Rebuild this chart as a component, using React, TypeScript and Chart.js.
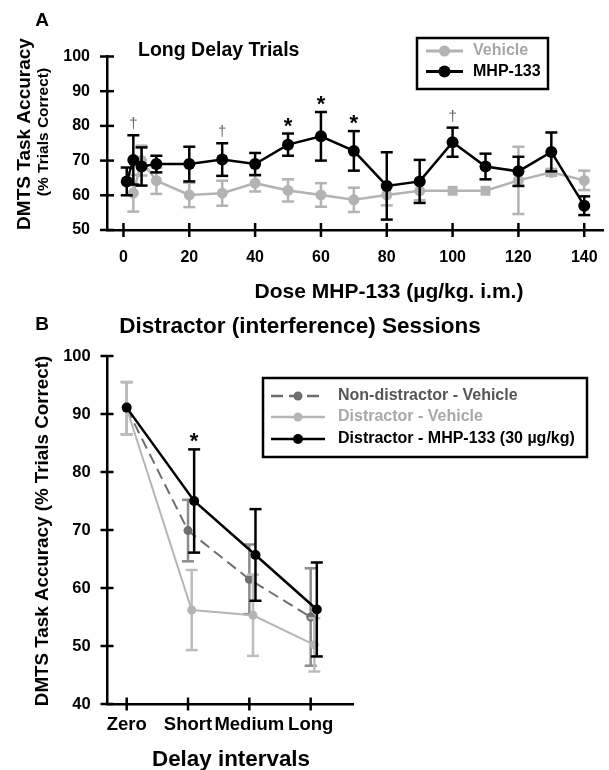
import React, { useEffect, useRef } from "react";
import { Chart, registerables } from "chart.js";
Chart.register(...registerables);

const W = 609;
const H = 770;
const FONT = '"Liberation Sans", Arial, Helvetica, sans-serif';

// ---------- Panel A data ----------
const doseTicks = [0, 20, 40, 60, 80, 100, 120, 140];
const yTicksA = [50, 60, 70, 80, 90, 100];
const mhpDose = [1, 3, 5.5, 10, 20, 30, 40, 50, 60, 70, 80, 90, 100, 110, 120, 130, 140];
const mhpMean = [64.0, 70.2, 68.3, 69.0, 69.0, 70.3, 69.0, 74.6, 77.0, 72.8, 62.7, 64.0, 75.3, 68.3, 66.9, 72.5, 57.0];
const mhpSem = [4.0, 7.1, 5.5, 2.4, 5.0, 4.7, 3.2, 3.2, 7.0, 5.7, 9.7, 6.2, 4.2, 3.7, 4.2, 5.6, 2.7];
const vehDose = [3, 5.5, 10, 20, 30, 40, 50, 60, 70, 80, 90, 100, 110, 120, 130, 140];
const vehMean = [60.6, 70.0, 64.2, 60.1, 60.6, 63.5, 61.4, 60.1, 58.7, 60.1, 61.3, 61.3, 61.3, 64.3, 66.6, 64.3];
const vehSem = [5.3, 4.3, 3.8, 3.5, 3.6, 2.4, 3.2, 3.4, 3.5, 3.0, 2.7, 0, 0, 9.7, 1.0, 2.8];
const squareDoses = [100, 110];
const markDoses = [3, 30, 50, 60, 70, 100];
const markSymbols = ["†", "†", "*", "*", "*", "†"];

// ---------- Panel B data ----------
const delayLabels = ["Zero", "Short", "Medium", "Long"];
const delayTicks = [0, 1, 2, 3];
const yTicksB = [40, 50, 60, 70, 80, 90, 100];
const nonDistMean = [91.0, 69.9, 61.5, 55.0];
const nonDistSem = [4.5, 5.3, 6.0, 8.4];
const distVehMean = [91.0, 56.2, 55.3, 50.2];
const distVehSem = [4.5, 6.9, 7.0, 4.6];
const distMhpMean = [91.1, 75.0, 65.7, 56.3];
const distMhpSem = [0, 8.9, 7.9, 8.1];
const markDelayIdx = [1];
const markDelaySymbols = ["*"];

const BLACK = "#000000";
const GRAY_A = "#b3b3b3";
const DARK_GRAY = "#6e6e6e";
const LIGHT_GRAY = "#b5b5b5";

function txt(ctx: CanvasRenderingContext2D, s: string, x: number, y: number, size: number, color: string, align: CanvasTextAlign = "center", rotate = 0, weight = "bold", baseline: CanvasTextBaseline = "middle") {
  ctx.save();
  ctx.font = `${weight} ${size}px ${FONT}`;
  ctx.fillStyle = color;
  ctx.textAlign = align;
  ctx.textBaseline = baseline;
  ctx.translate(x, y);
  if (rotate) ctx.rotate(rotate);
  ctx.fillText(s, 0, 0);
  ctx.restore();
}

function seg(ctx: CanvasRenderingContext2D, x1: number, y1: number, x2: number, y2: number, color: string, lw: number) {
  ctx.save();
  ctx.setLineDash([]);
  ctx.strokeStyle = color;
  ctx.lineWidth = lw;
  ctx.beginPath();
  ctx.moveTo(x1, y1);
  ctx.lineTo(x2, y2);
  ctx.stroke();
  ctx.restore();
}

const errorBarPlugin = {
  id: "errbars",
  beforeDatasetDraw(chart: any, args: any) {
    const ds = chart.data.datasets[args.index];
    const errs: number[] | undefined = ds.errors;
    if (!errs) return;
    const ys = chart.scales.y;
    const ctx = chart.ctx as CanvasRenderingContext2D;
    const col = ds.errorColor || ds.borderColor;
    const lw = ds.errorWidth || 2;
    const c = ds.capHalf || 6;
    args.meta.data.forEach((el: any, i: number) => {
      const e = errs[i];
      if (!e) return;
      const v = ds.data[i].y;
      const top = ys.getPixelForValue(v + e);
      const bot = ys.getPixelForValue(v - e);
      const x = el.x;
      seg(ctx, x, top, x, bot, col, lw);
      seg(ctx, x - c, top, x + c, top, col, lw);
      seg(ctx, x - c, bot, x + c, bot, col, lw);
    });
  },
};

function drawCrossTicks(chart: any, xt: number[], yt: number[], len: number) {
  const ctx = chart.ctx as CanvasRenderingContext2D;
  const xs = chart.scales.x;
  const ys = chart.scales.y;
  const ax = chart.chartArea;
  xt.forEach((v) => {
    const px = xs.getPixelForValue(v);
    seg(ctx, px, ax.bottom - len, px, ax.bottom + len, BLACK, 2.5);
  });
  yt.forEach((v) => {
    const py = ys.getPixelForValue(v);
    seg(ctx, ax.left - len, py, ax.left + len, py, BLACK, 2.5);
  });
}

type LegendRow = { label: string; color: string; textColor: string; dash?: number[]; r: number; lw: number };

function drawLegend(ctx: CanvasRenderingContext2D, box: [number, number, number, number], rows: LegendRow[], rowY: number[], lineX: [number, number], textX: number, size: number) {
  ctx.save();
  ctx.setLineDash([]);
  ctx.strokeStyle = BLACK;
  ctx.lineWidth = 2.5;
  ctx.strokeRect(box[0], box[1], box[2] - box[0], box[3] - box[1]);
  rows.forEach((r, i) => {
    const y = rowY[i];
    ctx.strokeStyle = r.color;
    ctx.lineWidth = r.lw;
    ctx.setLineDash(r.dash || []);
    ctx.beginPath();
    ctx.moveTo(lineX[0], y);
    ctx.lineTo(lineX[1], y);
    ctx.stroke();
    ctx.setLineDash([]);
    ctx.fillStyle = r.color;
    ctx.beginPath();
    ctx.arc((lineX[0] + lineX[1]) / 2, y, r.r, 0, Math.PI * 2);
    ctx.fill();
    txt(ctx, r.label, textX, y, size, r.textColor, "left");
  });
  ctx.restore();
}

function drawMarks(ctx: CanvasRenderingContext2D, xs: any, ys: any, xsVals: number[], means: number[], sems: number[], idx: number[], syms: string[]) {
  idx.forEach((i, k) => {
    const sym = syms[k];
    const px = xs.getPixelForValue(xsVals[i]);
    const top = ys.getPixelForValue(means[i] + sems[i]);
    if (sym === "*") txt(ctx, sym, px, top - 1, 22, BLACK, "center", 0, "bold", "alphabetic");
    else txt(ctx, sym, px, top - 7, 15, "#666", "center", 0, "normal", "alphabetic");
  });
}

const decoA = {
  id: "decoA",
  afterDraw(chart: any) {
    const ctx = chart.ctx as CanvasRenderingContext2D;
    const xs = chart.scales.x;
    const ys = chart.scales.y;
    drawCrossTicks(chart, doseTicks, yTicksA, 7);
    txt(ctx, "A", 42, 21, 19, BLACK);
    txt(ctx, "Long Delay Trials", 138, 51, 19.5, BLACK, "left");
    txt(ctx, "DMTS Task Accuracy", 25, 134, 19, BLACK, "center", -Math.PI / 2);
    txt(ctx, "(% Trials Correct)", 44, 132, 15.5, BLACK, "center", -Math.PI / 2);
    txt(ctx, "Dose MHP-133 (µg/kg. i.m.)", 389, 292, 21, BLACK);
    drawLegend(
      ctx,
      [417, 38, 548, 89],
      [
        { label: "Vehicle", color: GRAY_A, textColor: "#a6a6a6", r: 5.5, lw: 3 },
        { label: "MHP-133", color: BLACK, textColor: BLACK, r: 6, lw: 3 },
      ],
      [51, 71.5],
      [426, 463],
      473,
      16
    );
    const idx = markDoses.map((d) => mhpDose.indexOf(d));
    drawMarks(ctx, xs, ys, mhpDose, mhpMean, mhpSem, idx, markSymbols);
  },
};

const decoB = {
  id: "decoB",
  afterDraw(chart: any) {
    const ctx = chart.ctx as CanvasRenderingContext2D;
    const xs = chart.scales.x;
    const ys = chart.scales.y;
    drawCrossTicks(chart, delayTicks, yTicksB, 6.5);
    txt(ctx, "B", 42, 325, 19, BLACK);
    txt(ctx, "Distractor (interference) Sessions", 300, 327, 22.5, BLACK);
    txt(ctx, "DMTS Task Accuracy (% Trials Correct)", 43, 531, 18.8, BLACK, "center", -Math.PI / 2);
    txt(ctx, "Delay intervals", 231, 760, 22.4, BLACK);
    drawLegend(
      ctx,
      [263, 378, 587, 457],
      [
        { label: "Non-distractor - Vehicle", color: DARK_GRAY, textColor: "#555555", dash: [12, 6], r: 4.5, lw: 2.5 },
        { label: "Distractor - Vehicle", color: LIGHT_GRAY, textColor: "#a8a8a8", r: 4.5, lw: 2.5 },
        { label: "Distractor - MHP-133 (30 µg/kg)", color: BLACK, textColor: BLACK, r: 5, lw: 2.5 },
      ],
      [396, 417, 439],
      [271, 325],
      338,
      16
    );
    const xv = delayTicks.map((v, i) => (i === 0 ? v : v + 0.1));
    drawMarks(ctx, xs, ys, xv, distMhpMean, distMhpSem, markDelayIdx, markDelaySymbols);
  },
};

function axisCommon(size: number, padding: number) {
  return {
    grid: { display: false, drawTicks: false, tickLength: 0 },
    border: { display: true, color: BLACK, width: 2.5 },
    ticks: { color: BLACK, font: { family: FONT, size, weight: "bold" as const }, padding, maxRotation: 0, autoSkip: false },
  };
}

const zeroPad = (s: any) => {
  s.paddingLeft = 0;
  s.paddingRight = 0;
  s.paddingTop = 0;
  s.paddingBottom = 0;
};

function configA(): any {
  return {
    type: "line",
    data: {
      datasets: [
        {
          label: "MHP-133",
          data: mhpDose.map((d, i) => ({ x: d, y: mhpMean[i] })),
          errors: mhpSem,
          errorWidth: 2.5,
          capHalf: 6,
          borderColor: BLACK,
          backgroundColor: BLACK,
          borderWidth: 2.5,
          pointRadius: 6,
          pointBorderWidth: 0,
          tension: 0,
          clip: false,
        },
        {
          label: "Vehicle",
          data: vehDose.map((d, i) => ({ x: d, y: vehMean[i] })),
          errors: vehSem,
          errorWidth: 2.5,
          capHalf: 6,
          borderColor: GRAY_A,
          backgroundColor: GRAY_A,
          borderWidth: 2.5,
          pointStyle: vehDose.map((d) => (squareDoses.includes(d) ? "rect" : "circle")),
          pointRadius: vehDose.map((d) => (squareDoses.includes(d) ? 7 : 5.5)),
          pointBorderWidth: 0,
          tension: 0,
          clip: false,
        },
      ],
    },
    options: {
      animation: false,
      responsive: false,
      maintainAspectRatio: false,
      events: [],
      layout: { padding: { left: 0, top: 56.5, right: 0, bottom: H - 230 - 40 } },
      plugins: { legend: { display: false }, tooltip: { enabled: false } },
      scales: {
        x: {
          type: "linear",
          min: -5,
          max: 145.7,
          afterBuildTicks: (s: any) => {
            s.ticks = doseTicks.map((v) => ({ value: v }));
          },
          afterFit: (s: any) => {
            s.height = 40;
            zeroPad(s);
          },
          ...axisCommon(16, 17.7),
        },
        y: {
          type: "linear",
          min: 50,
          max: 100,
          afterBuildTicks: (s: any) => {
            s.ticks = yTicksA.map((v) => ({ value: v }));
          },
          afterFit: (s: any) => {
            s.width = 107;
            zeroPad(s);
          },
          ...axisCommon(16, 17),
        },
      },
    },
    plugins: [errorBarPlugin, decoA],
  };
}

function configB(): any {
  const mk = (label: string, means: number[], sems: number[], j: number, color: string, errColor: string, r: number, lw: number, dash: number[]) => ({
    label,
    data: means.map((m, i) => ({ x: i === 0 ? delayTicks[i] : delayTicks[i] + j, y: m })),
    errors: sems,
    errorColor: errColor,
    errorWidth: 2.5,
    capHalf: 6,
    borderColor: color,
    backgroundColor: color,
    borderWidth: lw,
    borderDash: dash,
    pointRadius: r,
    pointBorderWidth: 0,
    tension: 0,
    clip: false,
  });
  return {
    type: "line",
    data: {
      datasets: [
        mk("Distractor - MHP-133 (30 µg/kg)", distMhpMean, distMhpSem, 0.1, BLACK, BLACK, 5, 2.5, []),
        mk("Distractor - Vehicle", distVehMean, distVehSem, 0.06, LIGHT_GRAY, "#bdbdbd", 4.5, 2, []),
        mk("Non-distractor - Vehicle", nonDistMean, nonDistSem, 0, DARK_GRAY, "#8c8c8c", 4.5, 2, [11, 6]),
      ],
    },
    options: {
      animation: false,
      responsive: false,
      maintainAspectRatio: false,
      events: [],
      layout: { padding: { left: 0, top: 356, right: W - 353.3, bottom: H - 704 - 40 } },
      plugins: { legend: { display: false }, tooltip: { enabled: false } },
      scales: {
        x: {
          type: "linear",
          min: -0.321,
          max: 3.695,
          afterBuildTicks: (s: any) => {
            s.ticks = delayTicks.map((v) => ({ value: v }));
          },
          afterFit: (s: any) => {
            s.height = 40;
            zeroPad(s);
          },
          ...axisCommon(18.5, 9.9),
          ticks: { ...axisCommon(18.5, 9.9).ticks, callback: (v: any) => delayLabels[delayTicks.indexOf(Number(v))] ?? "" },
        },
        y: {
          type: "linear",
          min: 40,
          max: 100,
          afterBuildTicks: (s: any) => {
            s.ticks = yTicksB.map((v) => ({ value: v }));
          },
          afterFit: (s: any) => {
            s.width = 107;
            zeroPad(s);
          },
          ...axisCommon(16.5, 16.3),
        },
      },
    },
    plugins: [errorBarPlugin, decoB],
  };
}

export default function App() {
  const refA = useRef<HTMLCanvasElement>(null);
  const refB = useRef<HTMLCanvasElement>(null);
  useEffect(() => {
    const a = new Chart(refA.current as HTMLCanvasElement, configA());
    const b = new Chart(refB.current as HTMLCanvasElement, configB());
    return () => {
      a.destroy();
      b.destroy();
    };
  }, []);
  const cs: React.CSSProperties = { position: "absolute", left: 0, top: 0, width: W, height: H };
  return (
    <div style={{ position: "absolute", left: 0, top: 0, width: W, height: H, background: "#fff" }}>
      <canvas ref={refA} width={W} height={H} style={cs} />
      <canvas ref={refB} width={W} height={H} style={cs} />
    </div>
  );
}
